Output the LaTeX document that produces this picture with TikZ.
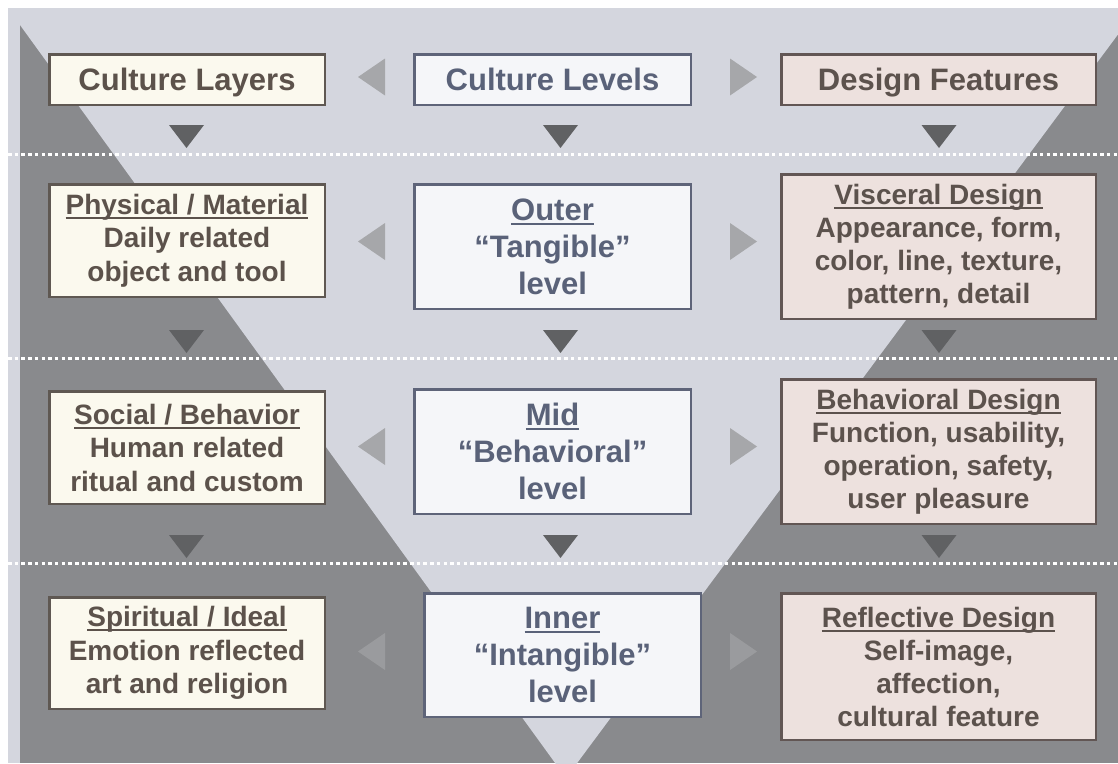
\documentclass[tikz,border=0pt]{standalone}
\usepackage{fontspec}
\setmainfont{Liberation Sans}
\definecolor{bgl}{HTML}{D4D6DE}
\definecolor{bgd}{HTML}{898A8D}
\definecolor{lfill}{HTML}{FBF9EE}
\definecolor{ldraw}{HTML}{5F5852}
\definecolor{ltext}{HTML}{5C524B}
\definecolor{mfill}{HTML}{F5F6F9}
\definecolor{mdraw}{HTML}{5E6479}
\definecolor{mtext}{HTML}{5A6279}
\definecolor{rfill}{HTML}{EDE1DE}
\definecolor{rdraw}{HTML}{625654}
\definecolor{rtext}{HTML}{5C524D}
\definecolor{darr}{HTML}{606163}
\definecolor{harr}{HTML}{9E9FA1}
\newcommand\uh[1]{\setbox0=\hbox{#1}\rlap{\rule[-4.5pt]{\wd0}{1.8pt}}\box0}
\newcommand\dtri[2]{\fill[darr] ({#1-17.5},#2) -- ({#1+17.5},#2) -- (#1,{#2+23}) -- cycle;}
\newcommand\ltri[1]{\fill[harr,opacity=0.85] (358,#1) -- (385,{#1-18.5}) -- (385,{#1+18.5}) -- cycle;}
\newcommand\rtri[1]{\fill[harr,opacity=0.85] (757,#1) -- (730,{#1-18.5}) -- (730,{#1+18.5}) -- cycle;}
\tikzset{
  boxbase/.style={draw, line width=2.5pt, inner sep=0pt, align=center},
  lbox/.style={boxbase, fill=lfill, draw=ldraw, text=ltext, minimum width=275.5pt, font=\fontsize{28}{33.5}\selectfont\bfseries},
  mbox/.style={boxbase, fill=mfill, draw=mdraw, text=mtext, minimum width=276.5pt, font=\fontsize{31}{37}\selectfont\bfseries},
  rbox/.style={boxbase, fill=rfill, draw=rdraw, text=rtext, minimum width=314.5pt, font=\fontsize{28}{33}\selectfont\bfseries},
  titlefont/.style={font=\fontsize{31}{37}\selectfont\bfseries, text height=22.5pt, text depth=0pt},
  dotline/.style={draw=white, line width=3pt, dash pattern=on 3.5pt off 3.2pt}
}
\begin{document}
\begin{tikzpicture}[x=1pt,y=-1pt]
\useasboundingbox (0,0) rectangle (1118,763);
\clip (0,0) rectangle (1118,763);
% background
\fill[white] (0,0) rectangle (1118,763);
\fill[bgl] (8,8) rectangle (1118,763);
\fill[bgd] (20,25) rectangle (1118,763);
\fill[bgl] (20,25) -- (1125,25) -- (566,778) -- cycle;
% dotted separators
\coordinate (s1a) at (8,154); \coordinate (s1b) at (1118,154);
\coordinate (s2a) at (8,358); \coordinate (s2b) at (1118,358);
\coordinate (s3a) at (8,563); \coordinate (s3b) at (1118,563);
\draw[dotline] (s1a) -- (s1b);
\draw[dotline] (s2a) -- (s2b);
\draw[dotline] (s3a) -- (s3b);
% down arrows
\dtri{186.5}{125} \dtri{560.5}{125} \dtri{939}{125}
\dtri{186.5}{330} \dtri{560.5}{330} \dtri{939}{330}
\dtri{186.5}{535} \dtri{560.5}{535} \dtri{939}{535}
% horizontal arrows
\ltri{77} \rtri{77}
\ltri{241.5} \rtri{241.5}
\ltri{446.5} \rtri{446.5}
\ltri{651.5} \rtri{651.5}
% row 1
\node[lbox, titlefont, minimum height=50.5pt] (cl) at (187,79.5) {Culture Layers};
\node[mbox, titlefont, minimum height=50.5pt] (cv) at (552.5,79.5) {Culture Levels};
\node[rbox, titlefont, minimum height=50.5pt] (df) at (938.5,79.5) {Design Features};
% row 2
\node[lbox, minimum height=112.5pt] (pm) at (187,240.5) {\uh{Physical / Material}\\Daily related\\object and tool};
\node[mbox, minimum height=124.5pt] (ou) at (552.5,246.5) {\uh{Outer}\\“Tangible”\\level};
\node[rbox, minimum height=144.5pt] (vd) at (938.5,246.5) {\uh{Visceral Design}\\Appearance, form,\\color, line, texture,\\pattern, detail};
% row 3
\node[lbox, minimum height=112.5pt] (sb) at (187,447.5) {\uh{Social / Behavior}\\Human related\\ritual and custom};
\node[mbox, minimum height=124.5pt] (mi) at (552.5,451.5) {\uh{Mid}\\“Behavioral”\\level};
\node[rbox, minimum height=144.5pt] (bd) at (938.5,451.5) {\uh{Behavioral Design}\\Function, usability,\\operation, safety,\\user pleasure};
% row 4
\node[lbox, minimum height=111.5pt] (si) at (187,653) {\uh{Spiritual / Ideal}\\Emotion reflected\\art and religion};
\node[mbox, minimum height=123.5pt] (in) at (562.5,655) {\uh{Inner}\\“Intangible”\\level};
\node[rbox, minimum height=146.5pt] (rd) at (938.5,666.5) {\uh{Reflective Design}\\Self-image,\\affection,\\cultural feature};
\end{tikzpicture}
\end{document}
